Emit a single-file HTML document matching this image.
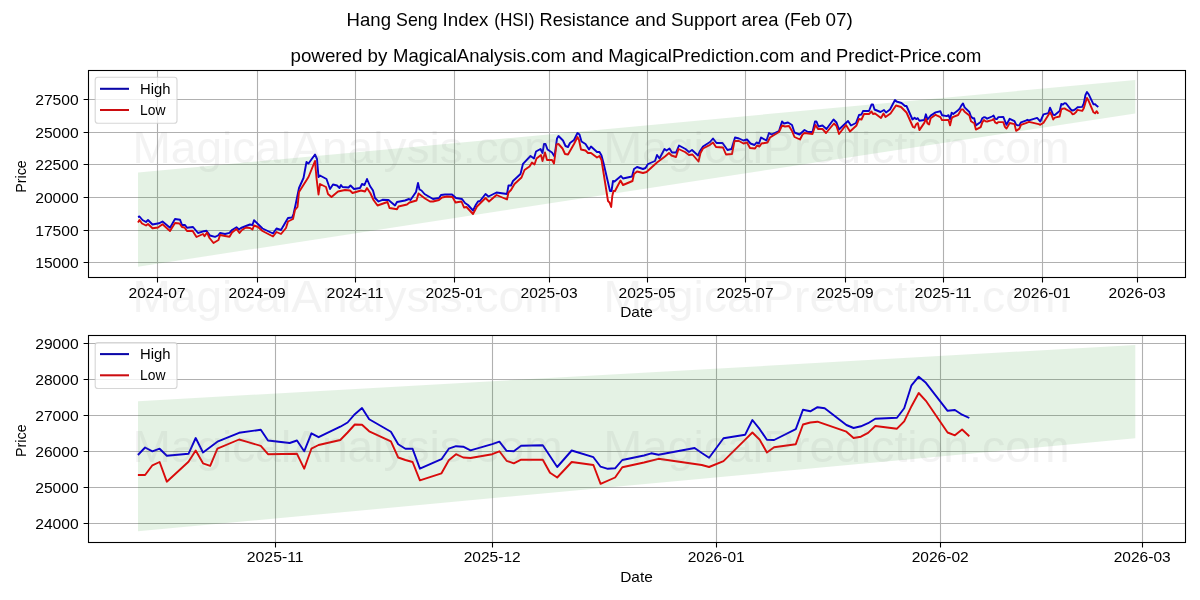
<!DOCTYPE html>
<html><head><meta charset="utf-8"><title>Hang Seng Index (HSI) Resistance and Support area</title>
<style>html,body{margin:0;padding:0;background:#fff;}body{width:1200px;height:600px;overflow:hidden;}svg{display:block;}text{font-family:"Liberation Sans", sans-serif;}</style></head><body>
<svg width="1200" height="600" viewBox="0 0 1200 600" style="will-change:transform">
<rect x="0" y="0" width="1200" height="600" fill="#ffffff"/>
<clipPath id="c1"><rect x="88.5" y="70.5" width="1097.0" height="207.0"/></clipPath>
<path d="M157.5,70.5 V277.5 M257.5,70.5 V277.5 M355.5,70.5 V277.5 M454.5,70.5 V277.5 M549.5,70.5 V277.5 M647.5,70.5 V277.5 M745.5,70.5 V277.5 M845.5,70.5 V277.5 M943.5,70.5 V277.5 M1042.5,70.5 V277.5 M1137.5,70.5 V277.5 M88.5,262.5 H1185.5 M88.5,230.5 H1185.5 M88.5,197.5 H1185.5 M88.5,164.5 H1185.5 M88.5,132.5 H1185.5 M88.5,99.5 H1185.5" stroke="#b0b0b0" stroke-width="1.1" fill="none"/>
<g clip-path="url(#c1)">
<path d="M138.0,172.5 L1135.3,80.0 L1135.3,113.5 L138.0,266.7 Z" fill="#008000" fill-opacity="0.105"/>
</g>
<clipPath id="c2"><rect x="88.5" y="335.5" width="1097.0" height="207.0"/></clipPath>
<path d="M275.5,335.5 V542.5 M492.5,335.5 V542.5 M716.5,335.5 V542.5 M940.5,335.5 V542.5 M1142.5,335.5 V542.5 M88.5,523.5 H1185.5 M88.5,487.5 H1185.5 M88.5,451.5 H1185.5 M88.5,415.5 H1185.5 M88.5,379.5 H1185.5 M88.5,343.5 H1185.5" stroke="#b0b0b0" stroke-width="1.1" fill="none"/>
<g clip-path="url(#c2)">
<path d="M138.0,401.2 L1135.3,345.0 L1135.3,438.3 L138.0,531.3 Z" fill="#008000" fill-opacity="0.105"/>
</g>
<g clip-path="url(#c1)" fill="none" stroke-width="1.9" stroke-linejoin="round" stroke-linecap="butt">
<path d="M138.0,217.0 L139.5,216.5 L142.5,220.0 L146.0,222.0 L148.0,220.0 L152.5,224.5 L159.0,223.3 L162.5,221.5 L170.0,227.8 L175.0,219.0 L180.0,219.7 L182.0,225.0 L185.0,225.0 L187.0,227.8 L193.0,227.0 L198.0,233.0 L204.0,231.2 L206.5,230.8 L210.0,235.5 L215.0,236.8 L218.0,235.5 L220.0,233.0 L225.0,234.0 L229.5,232.8 L232.0,230.0 L236.5,227.3 L239.0,229.5 L241.0,228.0 L246.0,226.0 L250.0,224.5 L252.5,225.0 L254.0,220.2 L262.5,228.5 L273.0,233.5 L276.5,228.5 L281.0,230.0 L288.0,218.0 L292.0,217.5 L293.5,214.0 L295.5,205.0 L299.0,188.0 L303.5,178.0 L306.5,162.0 L308.5,163.5 L315.0,154.5 L317.0,159.0 L318.5,177.0 L320.0,175.5 L326.5,179.0 L330.0,189.0 L333.0,184.5 L337.0,185.5 L339.5,188.0 L341.0,185.0 L342.5,187.0 L348.5,187.5 L350.5,185.5 L354.0,189.0 L360.0,188.0 L362.0,184.0 L364.5,185.0 L367.0,179.0 L370.0,186.0 L373.0,190.5 L375.0,198.0 L378.5,201.5 L382.5,199.8 L388.5,200.0 L395.0,205.5 L397.0,202.0 L405.0,200.5 L409.0,199.0 L410.5,200.0 L416.0,192.0 L418.0,183.0 L419.5,189.5 L421.5,190.5 L424.5,194.0 L433.0,199.0 L439.0,198.0 L441.0,195.0 L445.0,194.5 L452.0,194.5 L456.0,198.0 L462.0,199.0 L465.0,203.0 L468.0,205.0 L473.0,210.5 L476.0,204.5 L478.0,201.5 L480.0,201.0 L485.5,194.0 L488.5,196.5 L496.5,192.5 L507.0,194.0 L508.5,185.5 L511.0,185.5 L513.0,181.0 L520.5,174.0 L523.0,163.8 L530.5,156.0 L534.0,158.5 L536.0,151.5 L540.5,149.0 L542.5,153.0 L544.0,144.0 L545.5,144.0 L547.5,149.5 L552.0,152.5 L554.5,156.5 L557.0,138.5 L558.5,136.0 L563.0,140.5 L565.5,146.0 L568.0,147.0 L570.0,143.0 L574.0,140.0 L577.5,133.0 L579.5,134.5 L581.5,141.5 L585.5,144.0 L589.0,149.5 L591.0,146.5 L597.0,152.0 L599.5,152.0 L601.5,155.5 L603.5,163.0 L610.0,191.0 L611.5,191.0 L613.0,181.0 L614.5,181.5 L621.0,176.0 L623.0,178.5 L632.0,176.5 L634.0,169.0 L637.0,167.0 L643.0,169.0 L645.5,168.0 L648.0,164.0 L655.0,161.0 L657.0,155.0 L659.5,158.5 L664.5,149.0 L666.5,150.5 L669.5,148.5 L672.0,152.5 L676.0,152.5 L679.0,145.5 L685.5,149.0 L689.0,152.0 L692.0,150.0 L698.0,155.5 L700.0,151.0 L703.0,146.5 L710.0,142.0 L713.0,138.5 L716.5,143.0 L722.5,143.0 L727.5,150.0 L731.5,149.0 L735.0,137.5 L739.0,138.5 L743.5,140.5 L747.0,139.5 L750.5,143.5 L754.5,145.0 L756.5,142.5 L759.0,143.5 L761.0,137.5 L766.5,140.5 L769.0,133.0 L771.5,134.5 L779.0,131.0 L782.0,121.5 L784.0,123.5 L788.0,122.5 L792.0,125.0 L794.5,132.5 L799.5,134.5 L804.5,130.0 L808.0,132.0 L812.5,132.0 L815.0,121.5 L816.5,121.5 L818.5,126.5 L822.5,125.5 L826.5,129.0 L833.5,119.5 L836.5,122.5 L839.0,129.5 L848.0,121.0 L851.0,125.5 L856.0,123.0 L859.0,115.0 L861.5,114.5 L863.0,111.0 L869.0,111.0 L871.5,104.5 L873.0,104.5 L874.5,109.5 L880.5,112.0 L884.0,110.0 L886.0,112.5 L890.0,109.5 L895.0,100.0 L896.5,101.5 L901.5,103.0 L905.0,106.0 L906.5,106.0 L912.5,119.5 L914.6,117.7 L916.2,119.1 L917.8,118.2 L919.4,120.7 L924.3,120.0 L925.9,114.3 L927.5,119.5 L930.7,115.6 L935.6,112.4 L940.4,111.3 L942.0,115.2 L946.8,116.1 L948.5,115.2 L950.1,119.1 L951.7,112.6 L953.3,114.0 L958.1,110.2 L959.7,108.6 L961.3,105.6 L963.0,103.4 L964.6,107.4 L969.4,112.0 L971.0,116.5 L972.6,118.2 L974.2,118.2 L975.9,125.4 L980.7,122.0 L982.3,118.2 L983.9,117.2 L985.5,117.4 L987.1,118.7 L992.0,116.5 L993.6,115.6 L995.2,118.9 L996.8,119.1 L998.4,117.1 L1003.3,116.9 L1006.5,124.8 L1009.7,118.8 L1014.5,121.2 L1016.1,124.7 L1017.7,125.4 L1019.4,125.3 L1021.0,122.3 L1025.8,120.6 L1027.4,119.8 L1029.0,120.3 L1037.1,117.9 L1038.7,119.7 L1040.3,121.5 L1043.5,114.4 L1048.4,113.1 L1050.0,107.7 L1051.6,111.1 L1053.2,114.9 L1054.8,115.0 L1059.6,111.1 L1061.3,104.0 L1062.9,104.6 L1064.5,103.1 L1066.1,103.5 L1070.9,109.6 L1072.5,110.6 L1074.2,110.0 L1075.8,108.9 L1077.4,107.3 L1082.2,106.9 L1083.8,103.5 L1085.4,95.2 L1087.0,92.0 L1088.6,94.2 L1093.5,104.4 L1095.1,104.1 L1096.7,105.8 L1098.3,107.0" stroke="#0b00cc"/>
<path d="M138.0,222.5 L139.5,220.0 L142.0,223.5 L146.0,225.5 L148.0,224.0 L152.5,228.3 L158.0,227.5 L162.5,224.3 L170.0,231.0 L175.0,223.0 L179.5,223.5 L182.0,227.0 L184.5,227.5 L187.0,231.0 L192.5,230.8 L196.5,237.0 L203.0,234.0 L204.5,236.2 L207.0,232.5 L209.5,238.0 L213.5,243.0 L218.5,240.0 L220.0,235.0 L225.0,236.0 L229.5,236.8 L232.0,232.5 L236.5,229.0 L239.5,233.0 L242.0,230.0 L246.0,227.5 L250.0,228.0 L252.5,229.5 L254.0,225.5 L258.0,227.0 L262.5,231.0 L273.0,236.5 L276.5,232.0 L281.0,234.0 L286.0,228.0 L288.0,221.5 L293.0,219.0 L295.0,210.0 L297.5,207.0 L299.0,192.0 L308.5,177.0 L315.0,161.0 L316.5,178.0 L318.5,194.5 L320.0,184.0 L326.0,187.0 L328.0,194.0 L331.5,197.0 L338.0,191.5 L345.0,190.0 L350.0,190.5 L352.5,193.0 L361.0,190.5 L365.0,191.5 L367.0,188.0 L370.5,193.5 L373.5,200.0 L377.5,205.5 L387.5,202.0 L389.5,208.0 L397.0,209.2 L398.5,206.5 L407.0,204.5 L409.5,202.5 L416.5,200.5 L418.5,193.5 L425.0,198.5 L430.0,201.5 L433.0,201.5 L439.0,200.0 L442.0,197.5 L447.0,196.5 L452.5,197.0 L455.5,202.5 L461.5,201.5 L464.0,207.5 L466.5,207.0 L473.0,214.0 L477.0,206.5 L485.5,198.0 L489.0,201.5 L496.5,195.0 L507.0,199.5 L508.5,192.5 L511.0,190.0 L514.5,184.0 L521.5,177.5 L524.5,170.0 L529.5,166.5 L532.0,162.5 L534.5,164.5 L536.5,158.5 L541.0,155.0 L542.5,161.0 L545.0,152.5 L547.0,160.0 L552.0,160.0 L554.0,163.5 L556.5,144.5 L558.5,144.0 L562.5,148.5 L565.0,154.0 L568.0,154.5 L574.0,144.0 L577.5,137.0 L579.0,140.0 L581.0,149.5 L585.5,150.5 L588.0,153.0 L591.0,153.0 L597.0,157.5 L599.5,156.0 L601.5,160.0 L608.0,201.0 L609.5,202.5 L611.2,207.0 L612.3,196.0 L613.5,191.0 L615.0,191.0 L620.5,180.5 L623.0,185.0 L632.5,181.0 L634.0,174.0 L637.0,171.5 L643.0,173.0 L646.5,172.0 L657.0,162.5 L665.0,156.5 L669.0,153.0 L671.5,155.5 L676.0,157.0 L678.5,149.0 L685.0,152.0 L689.0,155.0 L692.5,154.5 L698.5,161.5 L700.5,153.0 L703.0,148.5 L710.0,144.8 L713.0,142.5 L716.0,147.0 L723.0,147.5 L726.0,154.5 L732.0,154.0 L734.5,141.0 L739.0,141.0 L743.5,143.5 L747.0,142.5 L750.0,148.0 L755.0,148.5 L757.0,145.5 L759.5,146.5 L761.5,143.5 L767.5,142.5 L770.0,137.5 L779.0,132.0 L782.0,125.5 L785.0,126.5 L789.0,126.0 L792.0,131.0 L794.5,137.0 L800.0,139.5 L802.5,134.5 L804.5,133.0 L812.5,134.0 L815.5,125.0 L818.0,129.0 L822.5,129.0 L826.0,133.0 L834.0,123.5 L836.5,126.0 L839.0,134.0 L846.0,125.0 L850.0,131.5 L856.5,125.5 L859.0,119.0 L861.5,119.5 L864.0,114.0 L869.0,114.0 L871.5,111.5 L873.0,114.0 L875.0,113.5 L881.0,118.0 L883.5,113.5 L885.5,117.0 L890.5,113.5 L896.0,105.5 L901.0,107.0 L906.5,112.5 L913.0,127.0 L914.6,127.7 L916.2,124.2 L917.8,123.0 L919.4,130.1 L924.3,122.9 L925.9,118.8 L927.5,123.4 L929.1,124.4 L930.7,118.2 L935.6,114.8 L937.2,115.6 L940.4,117.1 L942.0,120.1 L948.5,120.0 L950.1,125.4 L951.7,118.2 L953.3,116.8 L958.1,115.0 L959.7,112.3 L961.3,109.4 L963.0,109.4 L964.6,111.8 L969.4,115.5 L971.0,121.3 L972.6,122.3 L974.2,123.0 L975.9,129.6 L980.7,127.1 L982.3,122.4 L983.9,120.1 L985.5,121.3 L987.1,121.5 L992.0,120.1 L993.6,119.1 L995.2,122.5 L996.8,123.4 L998.4,122.1 L1003.3,122.1 L1004.9,126.9 L1006.5,128.6 L1009.7,123.0 L1014.5,124.1 L1016.1,130.9 L1019.4,128.6 L1021.0,124.9 L1025.8,123.2 L1029.0,121.8 L1038.7,124.1 L1040.3,124.8 L1043.5,122.7 L1048.4,114.9 L1050.0,112.3 L1051.6,114.9 L1053.2,119.5 L1054.8,117.6 L1059.6,116.5 L1061.3,109.4 L1062.9,108.6 L1064.5,108.4 L1066.1,109.3 L1070.9,112.0 L1072.5,114.3 L1074.2,113.8 L1075.8,112.4 L1077.4,109.9 L1082.2,110.9 L1083.8,108.2 L1085.4,102.7 L1087.0,97.9 L1088.6,100.8 L1093.5,112.3 L1095.1,113.3 L1096.7,111.2 L1098.3,113.7" stroke="#d90b0b"/>
</g>
<g clip-path="url(#c2)" fill="none" stroke-width="1.9" stroke-linejoin="round" stroke-linecap="butt">
<path d="M137.9,455.0 L145.1,447.5 L152.4,451.3 L159.6,448.7 L166.8,455.8 L188.5,453.8 L195.7,438.0 L203.0,452.5 L217.4,441.7 L239.1,432.8 L260.8,429.7 L268.0,440.5 L289.7,443.0 L297.0,440.5 L304.2,451.3 L311.4,433.3 L318.6,437.2 L340.3,426.7 L347.6,422.5 L354.8,414.2 L362.0,408.0 L369.2,419.2 L390.9,431.7 L398.2,444.2 L405.4,448.8 L412.6,448.8 L419.9,468.7 L441.5,459.2 L448.8,448.7 L456.0,446.2 L463.2,446.7 L470.5,450.3 L492.2,444.2 L499.4,441.7 L506.6,450.8 L513.8,451.2 L521.1,445.8 L542.8,445.3 L557.2,467.0 L571.7,450.5 L593.4,457.2 L600.6,466.7 L607.8,468.8 L615.1,468.3 L622.3,460.0 L644.0,455.5 L651.2,453.3 L658.5,454.7 L694.6,448.0 L701.8,453.0 L709.1,457.8 L723.5,438.3 L745.2,434.7 L752.4,420.0 L759.7,429.2 L766.9,439.7 L774.1,440.0 L795.8,429.2 L803.0,409.7 L810.3,411.3 L817.5,407.2 L824.7,408.3 L846.4,425.0 L853.6,428.0 L860.9,426.3 L868.1,423.2 L875.3,418.7 L897.0,417.8 L904.2,408.3 L911.5,385.3 L918.7,376.7 L925.9,382.8 L947.6,410.8 L954.9,410.0 L962.1,414.7 L969.3,418.0" stroke="#0b00cc"/>
<path d="M137.9,475.0 L145.1,475.0 L152.4,465.3 L159.6,462.0 L166.8,481.7 L188.5,461.7 L195.7,450.5 L203.0,463.3 L210.2,465.8 L217.4,448.7 L239.1,439.5 L246.4,441.7 L260.8,445.8 L268.0,454.2 L297.0,453.8 L304.2,468.7 L311.4,448.7 L318.6,445.0 L340.3,440.0 L347.6,432.5 L354.8,424.5 L362.0,424.7 L369.2,431.3 L390.9,441.3 L398.2,457.5 L405.4,460.0 L412.6,462.0 L419.9,480.3 L441.5,473.3 L448.8,460.3 L456.0,454.2 L463.2,457.5 L470.5,458.0 L492.2,454.2 L499.4,451.3 L506.6,460.8 L513.8,463.3 L521.1,459.7 L542.8,459.7 L550.0,472.8 L557.2,477.5 L571.7,462.0 L593.4,465.0 L600.6,483.8 L615.1,477.5 L622.3,467.2 L644.0,462.5 L658.5,458.8 L701.8,465.0 L709.1,467.0 L723.5,461.2 L745.2,439.7 L752.4,432.5 L759.7,439.7 L766.9,452.5 L774.1,447.2 L795.8,444.2 L803.0,424.5 L810.3,422.5 L817.5,421.7 L824.7,424.2 L846.4,431.7 L853.6,438.0 L860.9,436.7 L868.1,432.9 L875.3,426.0 L897.0,428.7 L904.2,421.3 L911.5,406.2 L918.7,393.0 L925.9,400.8 L947.6,432.5 L954.9,435.3 L962.1,429.5 L969.3,436.3" stroke="#d90b0b"/>
</g>
<path d="M157.5,277.5 v4.9 M257.5,277.5 v4.9 M355.5,277.5 v4.9 M454.5,277.5 v4.9 M549.5,277.5 v4.9 M647.5,277.5 v4.9 M745.5,277.5 v4.9 M845.5,277.5 v4.9 M943.5,277.5 v4.9 M1042.5,277.5 v4.9 M1137.5,277.5 v4.9 M88.5,262.5 h-4.9 M88.5,230.5 h-4.9 M88.5,197.5 h-4.9 M88.5,164.5 h-4.9 M88.5,132.5 h-4.9 M88.5,99.5 h-4.9" stroke="#000" stroke-width="1.1" fill="none"/>
<rect x="88.5" y="70.5" width="1097.0" height="207.0" fill="none" stroke="#000" stroke-width="1.1"/>
<path d="M275.5,542.5 v4.9 M492.5,542.5 v4.9 M716.5,542.5 v4.9 M940.5,542.5 v4.9 M1142.5,542.5 v4.9 M88.5,523.5 h-4.9 M88.5,487.5 h-4.9 M88.5,451.5 h-4.9 M88.5,415.5 h-4.9 M88.5,379.5 h-4.9 M88.5,343.5 h-4.9" stroke="#000" stroke-width="1.1" fill="none"/>
<rect x="88.5" y="335.5" width="1097.0" height="207.0" fill="none" stroke="#000" stroke-width="1.1"/>
<rect x="95.2" y="77.3" width="81.8" height="45.9" rx="2.8" ry="2.8" fill="#fff" fill-opacity="0.8" stroke="#cccccc" stroke-opacity="0.8" stroke-width="1.1"/>
<path d="M100.0,88.8 h29" stroke="#0a06a8" stroke-width="2.05"/>
<path d="M100.0,110.0 h29" stroke="#cc0c10" stroke-width="2.05"/>
<text x="140.0" y="93.8" font-size="14.30" textLength="30.5" lengthAdjust="spacingAndGlyphs">High</text>
<text x="140.0" y="114.9" font-size="14.30" textLength="25.5" lengthAdjust="spacingAndGlyphs">Low</text>
<rect x="95.2" y="342.6" width="81.8" height="45.9" rx="2.8" ry="2.8" fill="#fff" fill-opacity="0.8" stroke="#cccccc" stroke-opacity="0.8" stroke-width="1.1"/>
<path d="M100.0,354.1 h29" stroke="#0a06a8" stroke-width="2.05"/>
<path d="M100.0,375.3 h29" stroke="#cc0c10" stroke-width="2.05"/>
<text x="140.0" y="359.1" font-size="14.30" textLength="30.5" lengthAdjust="spacingAndGlyphs">High</text>
<text x="140.0" y="380.2" font-size="14.30" textLength="25.5" lengthAdjust="spacingAndGlyphs">Low</text>
<g opacity="0.999">
<text x="157.1" y="298.0" font-size="14.30" text-anchor="middle" textLength="57.0" lengthAdjust="spacingAndGlyphs">2024-07</text>
<text x="257.1" y="298.0" font-size="14.30" text-anchor="middle" textLength="57.0" lengthAdjust="spacingAndGlyphs">2024-09</text>
<text x="355.1" y="298.0" font-size="14.30" text-anchor="middle" textLength="57.0" lengthAdjust="spacingAndGlyphs">2024-11</text>
<text x="454.1" y="298.0" font-size="14.30" text-anchor="middle" textLength="57.0" lengthAdjust="spacingAndGlyphs">2025-01</text>
<text x="549.1" y="298.0" font-size="14.30" text-anchor="middle" textLength="57.0" lengthAdjust="spacingAndGlyphs">2025-03</text>
<text x="647.1" y="298.0" font-size="14.30" text-anchor="middle" textLength="57.0" lengthAdjust="spacingAndGlyphs">2025-05</text>
<text x="745.1" y="298.0" font-size="14.30" text-anchor="middle" textLength="57.0" lengthAdjust="spacingAndGlyphs">2025-07</text>
<text x="845.1" y="298.0" font-size="14.30" text-anchor="middle" textLength="57.0" lengthAdjust="spacingAndGlyphs">2025-09</text>
<text x="943.1" y="298.0" font-size="14.30" text-anchor="middle" textLength="57.0" lengthAdjust="spacingAndGlyphs">2025-11</text>
<text x="1042.1" y="298.0" font-size="14.30" text-anchor="middle" textLength="57.0" lengthAdjust="spacingAndGlyphs">2026-01</text>
<text x="1137.1" y="298.0" font-size="14.30" text-anchor="middle" textLength="57.0" lengthAdjust="spacingAndGlyphs">2026-03</text>
<text x="78.7" y="267.6" font-size="14.30" text-anchor="end" textLength="43.5" lengthAdjust="spacingAndGlyphs">15000</text>
<text x="78.7" y="235.6" font-size="14.30" text-anchor="end" textLength="43.5" lengthAdjust="spacingAndGlyphs">17500</text>
<text x="78.7" y="202.6" font-size="14.30" text-anchor="end" textLength="43.5" lengthAdjust="spacingAndGlyphs">20000</text>
<text x="78.7" y="169.6" font-size="14.30" text-anchor="end" textLength="43.5" lengthAdjust="spacingAndGlyphs">22500</text>
<text x="78.7" y="137.6" font-size="14.30" text-anchor="end" textLength="43.5" lengthAdjust="spacingAndGlyphs">25000</text>
<text x="78.7" y="104.6" font-size="14.30" text-anchor="end" textLength="43.5" lengthAdjust="spacingAndGlyphs">27500</text>
<text x="275.2" y="562.0" font-size="14.30" text-anchor="middle" textLength="57.0" lengthAdjust="spacingAndGlyphs">2025-11</text>
<text x="492.2" y="562.0" font-size="14.30" text-anchor="middle" textLength="57.0" lengthAdjust="spacingAndGlyphs">2025-12</text>
<text x="716.2" y="562.0" font-size="14.30" text-anchor="middle" textLength="57.0" lengthAdjust="spacingAndGlyphs">2026-01</text>
<text x="940.2" y="562.0" font-size="14.30" text-anchor="middle" textLength="57.0" lengthAdjust="spacingAndGlyphs">2026-02</text>
<text x="1142.2" y="562.0" font-size="14.30" text-anchor="middle" textLength="57.0" lengthAdjust="spacingAndGlyphs">2026-03</text>
<text x="78.7" y="528.6" font-size="14.30" text-anchor="end" textLength="43.5" lengthAdjust="spacingAndGlyphs">24000</text>
<text x="78.7" y="492.6" font-size="14.30" text-anchor="end" textLength="43.5" lengthAdjust="spacingAndGlyphs">25000</text>
<text x="78.7" y="456.6" font-size="14.30" text-anchor="end" textLength="43.5" lengthAdjust="spacingAndGlyphs">26000</text>
<text x="78.7" y="420.6" font-size="14.30" text-anchor="end" textLength="43.5" lengthAdjust="spacingAndGlyphs">27000</text>
<text x="78.7" y="384.6" font-size="14.30" text-anchor="end" textLength="43.5" lengthAdjust="spacingAndGlyphs">28000</text>
<text x="78.7" y="348.6" font-size="14.30" text-anchor="end" textLength="43.5" lengthAdjust="spacingAndGlyphs">29000</text>
<text x="636.5" y="316.7" font-size="14.30" text-anchor="middle" textLength="32.6" lengthAdjust="spacingAndGlyphs">Date</text>
<text x="636.5" y="581.7" font-size="14.30" text-anchor="middle" textLength="32.6" lengthAdjust="spacingAndGlyphs">Date</text>
<text transform="translate(26.2,176.5) rotate(-90)" font-size="14.3" text-anchor="middle" textLength="32.6" lengthAdjust="spacingAndGlyphs">Price</text>
<text transform="translate(26.2,440.7) rotate(-90)" font-size="14.3" text-anchor="middle" textLength="32.6" lengthAdjust="spacingAndGlyphs">Price</text>
<text x="346.6" y="26.0" font-size="18.20" textLength="44.4" lengthAdjust="spacingAndGlyphs">Hang</text>
<text x="396.1" y="26.0" font-size="18.20" textLength="41.4" lengthAdjust="spacingAndGlyphs">Seng</text>
<text x="442.6" y="26.0" font-size="18.20" textLength="45.9" lengthAdjust="spacingAndGlyphs">Index</text>
<text x="494.2" y="26.0" font-size="18.20" textLength="40.2" lengthAdjust="spacingAndGlyphs">(HSI)</text>
<text x="539.5" y="26.0" font-size="18.20" textLength="90.0" lengthAdjust="spacingAndGlyphs">Resistance</text>
<text x="634.9" y="26.0" font-size="18.20" textLength="31.4" lengthAdjust="spacingAndGlyphs">and</text>
<text x="671.1" y="26.0" font-size="18.20" textLength="65.4" lengthAdjust="spacingAndGlyphs">Support</text>
<text x="741.6" y="26.0" font-size="18.20" textLength="36.9" lengthAdjust="spacingAndGlyphs">area</text>
<text x="784.2" y="26.0" font-size="18.20" textLength="36.3" lengthAdjust="spacingAndGlyphs">(Feb</text>
<text x="825.6" y="26.0" font-size="18.20" textLength="27.3" lengthAdjust="spacingAndGlyphs">07)</text>
<text x="290.5" y="61.5" font-size="18.20" textLength="72.0" lengthAdjust="spacingAndGlyphs">powered</text>
<text x="367.6" y="61.5" font-size="18.20" textLength="19.8" lengthAdjust="spacingAndGlyphs">by</text>
<text x="393.1" y="61.5" font-size="18.20" textLength="172.8" lengthAdjust="spacingAndGlyphs">MagicalAnalysis.com</text>
<text x="571.6" y="61.5" font-size="18.20" textLength="31.8" lengthAdjust="spacingAndGlyphs">and</text>
<text x="608.2" y="61.5" font-size="18.20" textLength="186.2" lengthAdjust="spacingAndGlyphs">MagicalPrediction.com</text>
<text x="800.1" y="61.5" font-size="18.20" textLength="31.2" lengthAdjust="spacingAndGlyphs">and</text>
<text x="836.1" y="61.5" font-size="18.20" textLength="145.2" lengthAdjust="spacingAndGlyphs">Predict-Price.com</text>
</g>
<g fill="#808080" fill-opacity="0.095" font-size="44.8">
<text x="132.5" y="162.5" fill="#808080" textLength="430" lengthAdjust="spacingAndGlyphs">MagicalAnalysis.com</text>
<text x="603.5" y="162.5" fill="#808080" textLength="466" lengthAdjust="spacingAndGlyphs">MagicalPrediction.com</text>
<text x="132.5" y="312.0" fill="#808080" textLength="430" lengthAdjust="spacingAndGlyphs">MagicalAnalysis.com</text>
<text x="603.5" y="312.0" fill="#808080" textLength="466" lengthAdjust="spacingAndGlyphs">MagicalPrediction.com</text>
<text x="132.5" y="462.0" fill="#808080" textLength="430" lengthAdjust="spacingAndGlyphs">MagicalAnalysis.com</text>
<text x="603.5" y="462.0" fill="#808080" textLength="466" lengthAdjust="spacingAndGlyphs">MagicalPrediction.com</text>
</g>
</svg></body></html>
